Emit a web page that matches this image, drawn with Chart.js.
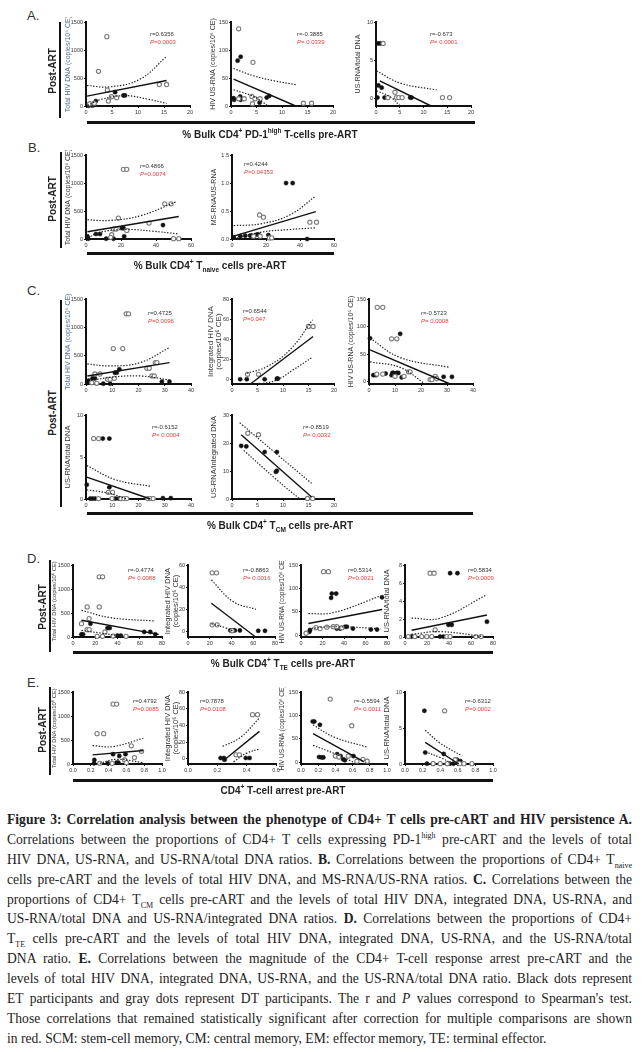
<!DOCTYPE html>
<html>
<head>
<meta charset="utf-8">
<script src="https://cdn.jsdelivr.net/npm/chart.js@4.4.0/dist/chart.umd.min.js"></script>
<style>
body{margin:0;background:#fff;width:642px;height:1052px;position:relative;overflow:hidden;font-family:"Liberation Sans",Arial,sans-serif;color:#222}
canvas{position:absolute}
.let{position:absolute;font-size:13px;line-height:13px;color:#333}
.post{position:absolute;font-weight:bold;font-size:10px;white-space:nowrap;transform:translate(-50%,-50%) rotate(-90deg);color:#222}
.vl{position:absolute;width:2px;background:#111}
.hb{position:absolute;height:3px;background:#111}
.xt{position:absolute;font-weight:bold;font-size:10px;white-space:nowrap;transform:translate(-50%,-50%);color:#222}
.xt sup,.xt sub{font-size:6.5px;line-height:0}
.st{position:absolute;font-size:6px;line-height:8px;white-space:nowrap;color:#333}
.st .p{color:#e8403f}
.cap{position:absolute;left:7px;top:810px;width:625px;font-family:"Liberation Serif","Times New Roman",serif;font-size:13.6px;color:#222}
.cap div{height:19.9px;line-height:19.9px;text-align:justify;text-align-last:justify}
.cap div.last{text-align-last:left}
.cap sup,.cap sub{font-size:8px;line-height:0}
</style>
</head>
<body>
<script>
// ---- A: % bulk CD4+ PD-1high ----
const a1Black = [[0.5,5],[0.8,30],[1.1,12],[1.4,15],[1.9,89],[5.6,248],[7.2,189],[7.5,189]];
const a1Gray = [[4.0,1240],[2.4,620],[4.1,283],[14.1,384],[15.5,384],[4.3,89],[4.9,165],[5.9,148],[0.7,40],[1.6,50]];
const a1Fit = [[0.2,177],[15.5,455]];
const a1Hi = [[0.2,366],[4.6,342],[10.4,480],[15.5,886]];
const a1Lo = [[0.3,10],[3,120],[7.5,185],[12,120],[15.5,47]];

const a2Black = [[1.3,81],[1.9,88],[0.6,11],[0.5,14],[1.8,17],[1.9,11],[7.0,15],[7.5,18],[5.6,6]];
const a2Gray = [[1.5,138],[4.3,78],[14.2,5],[15.8,5],[4.1,17],[4.7,13],[5.7,13],[1.5,13],[2.6,13],[4.2,4]];
const a2Fit = [[0.5,48],[12.7,0]];
const a2Hi = [[0.5,67],[4.4,54],[8.5,45],[12.8,38]];
const a2Lo = [[0.5,29],[4.4,17],[7.3,0]];

const a3Black = [[0.4,7.2],[0.9,7.2],[0.5,1.7],[1.2,1.4],[0.3,0.1],[1.8,0.1],[7.2,0.1],[7.5,0.1]];
const a3Gray = [[1.5,7.2],[2.5,0.1],[4.3,0.1],[4.8,0.1],[4.0,0.8],[5.5,0.1],[14.0,0.1],[15.5,0.1]];
const a3Fit = [[0.8,2.3],[11.6,-1]];
const a3Hi = [[0.1,3.6],[5.1,2.0],[12.8,1.1]];
const a3Lo = [[0.1,1.0],[3,0.2],[5.1,-1]];

// ---- B: % bulk CD4+ Tnaive ----
const b1Black = [[0.8,47],[5.7,89],[8,89],[20.5,196],[21.4,196],[44,249],[11.5,5],[15.7,5],[21.8,47],[1.3,5]];
const b1Gray = [[21.4,1245],[23.3,1245],[45,629],[48.6,629],[18.5,374],[36,285],[15.7,178],[17.2,178],[14.7,77],[23.3,154],[50,6],[53,6],[14.1,30]];
const b1Fit = [[0.8,130],[53,403]];
const b1Hi = [[0.8,344],[13.8,332],[31,415],[52,670]];
const b1Lo = [[1,20],[8,120],[23,170],[38,140],[53,90]];

const b2Black = [[31.8,1.0],[35.7,1.0],[1,0.03],[4.9,0.05],[7.8,0.06],[10.7,0.06],[11.7,0.06],[14.6,0.08],[15.6,0.08],[21.4,0.07],[44.2,0]];
const b2Gray = [[16.2,0.43],[18.5,0.39],[45.8,0.3],[49.7,0.3],[16.6,0.05],[22,0.02],[23.4,0.02],[12.7,0.05]];
const b2Fit = [[1,0.05],[49.3,0.49]];
const b2Hi = [[1,0.24],[16.6,0.27],[34,0.43],[49.3,0.77]];
const b2Lo = [[1,0],[16.6,0.12],[34,0.17],[49.3,0.2]];

// ---- C: % bulk CD4+ TCM ----
const c1Black = [[0.5,20],[1,60],[2.5,100],[3.4,100],[11,200],[11.7,200],[12.7,260],[9.2,5],[6.6,5],[28.9,41],[31.8,41]];
const c1Gray = [[15.3,1240],[16.2,1240],[10.4,626],[14,626],[23.2,278],[24.1,278],[26.4,378],[27,378],[25.1,142],[26,142],[3.4,177],[5.3,177],[8.2,83],[9.2,83],[10.8,100],[2.2,24],[4.1,12]];
const c1Fit = [[0.5,142],[31.8,378]];
const c1Hi = [[0.5,354],[9.2,319],[20.6,378],[31.8,644]];
const c1Lo = [[2,60],[9.2,118],[20.6,142],[31.8,71]];

const c2Black = [[1.6,0.7],[2.9,0.7],[6.4,0.7],[8.8,1.3],[9,1.3]];
const c2Gray = [[15,52.9],[15.9,52.9],[3.05,5.6],[5.2,5.6]];
const c2Fit = [[3.6,-4],[15.9,43]];
const c2Hi = [[2.9,6.6],[6.8,13],[11.4,30],[15.8,59.5]];
const c2Lo = [[5.5,-4],[8.8,0],[12,10],[15.8,22.5]];

const c3Black = [[0.4,79],[12,87],[1.7,12],[2.7,12],[6.4,15],[9,16],[9.4,16],[10.7,16],[11.3,16],[12.6,8],[28.7,9],[31.9,9],[8.7,12]];
const c3Gray = [[3.2,135],[5.3,135],[8.7,78],[10.7,78],[15.2,18],[15.8,18],[3,14],[5.3,14],[10,10],[13.5,10],[23.5,4],[24.2,4],[25.5,10],[26,6]];
const c3Fit = [[0.4,58],[31.2,-4]];
const c3Hi = [[0.4,79],[12,44],[31.2,26]];
const c3Lo = [[0.4,36],[12,26],[21.6,-4]];

const c4Black = [[6.4,7.2],[8.9,7.2],[0.3,1.7],[8.9,1.4],[1.6,0.05],[2.5,0.05],[3.5,0.05],[11.2,0.05],[12.5,0.05],[29.3,0.1],[32.3,0.1]];
const c4Gray = [[2.9,7.2],[4.8,7.2],[8.5,0.8],[10.1,0.8],[4.8,0.05],[9.9,0.05],[13.3,0.05],[14.4,0.05],[15.5,0.05],[23.5,0.05],[24.5,0.05],[25.6,0.05]];
const c4Fit = [[0.3,2.6],[24.5,0]];
const c4Hi = [[0.3,4.0],[11.2,2.3],[25,1.5]];
const c4Lo = [[0.3,1.1],[8.5,0.7],[15.5,0]];

const c5Black = [[1.8,19],[2.8,18.8],[6.4,16.8],[8.8,16.8],[8.8,10.1],[8.6,9.7]];
const c5Gray = [[3.1,23.5],[5.2,23],[14.8,0.2],[15.8,0.2]];
const c5Fit = [[1.8,23],[15.6,0.7]];
const c5Hi = [[1.5,27.3],[8.8,16],[15.6,5.6]];
const c5Lo = [[2.3,17.4],[8.8,6.8],[13.3,0]];

// ---- D: % bulk CD4+ TTE ----
const d1Black = [[7.6,56],[9,56],[15.7,279],[31,188],[33,188],[40,28],[43,28],[64,105],[69.5,105],[74,56]];
const d1Gray = [[23.6,1256],[26.6,1256],[12.7,628],[23.6,628],[14.5,384],[7.6,279],[12.7,153],[14.5,153],[21.7,14],[26.6,14],[28.7,105],[47.7,14],[36,20]];
const d1Fit = [[7.6,349],[77,56]];
const d1Hi = [[7.6,558],[33,405],[72.5,335]];
const d1Lo = [[7.6,140],[24,84],[45,14]];

const d2Black = [[39,0.9],[41.5,0.9],[43,0.9],[47.7,0.9],[64.6,0.6],[70.8,0.6]];
const d2Gray = [[22.2,53],[26.2,53],[22.2,6],[26.8,6],[40.6,0.6]];
const d2Fit = [[21.5,25.5],[61.5,-4.5]];
const d2Hi = [[21.5,46.5],[41.5,27],[62.5,20]];
const d2Lo = [[21.5,7],[35.4,3],[41.5,0]];

const d3Black = [[28.7,89],[32.7,89],[28,80],[75.4,81],[7.8,7],[8.4,11],[33.3,14],[36.4,14],[41,18],[42.7,18],[48.3,14],[65,12],[70.7,12]];
const d3Gray = [[20.9,136],[25.5,136],[14,16],[17.8,14],[30,18],[33.3,18],[4.7,4],[38,16],[24,17]];
const d3Fit = [[6.9,25],[75.4,55]];
const d3Hi = [[6.9,46],[30,48],[74,84]];
const d3Lo = [[6.9,14],[30,18],[74,14]];

const d4Black = [[41,7.1],[47.7,7.1],[39.5,1.35],[42.5,1.35],[74.5,1.7],[6,0.05],[31.9,0.05],[35,0.05]];
const d4Gray = [[22.8,7.1],[26.4,7.1],[27.4,0.8],[3,0.05],[9,0.05],[15.2,0.05],[19.8,0.05],[24.3,0.05],[38,0.05],[41,0.05],[64.4,0.05],[69.3,0.05]];
const d4Fit = [[6,0.75],[74.5,2.45]];
const d4Hi = [[6,2.1],[32,2.1],[74.5,4.7]];
const d4Lo = [[6,0.3],[32,0.6],[74.5,0]];

// ---- E: CD4+ T-cell arrest ----
const e1Black = [[0.24,84],[0.236,14],[0.45,204],[0.52,168],[0.59,204],[0.39,14],[0.49,28],[0.51,28]];
const e1Gray = [[0.45,1250],[0.49,1250],[0.27,633],[0.345,633],[0.655,380],[0.77,265],[0.58,84],[0.69,133],[0.3,14],[0.6,28],[0.44,14]];
const e1Fit = [[0.22,190],[0.79,283]];
const e1Hi = [[0.22,384],[0.45,363],[0.79,537]];
const e1Lo = [[0.3,14],[0.49,98],[0.79,28]];

const e2Black = [[0.222,1.2],[0.245,1.2],[0.394,1.2],[0.42,1.2],[0.25,-0.8]];
const e2Gray = [[0.44,53],[0.474,53],[0.327,5],[0.35,5]];
const e2Fit = [[0.236,-2.7],[0.487,33]];
const e2Hi = [[0.236,15],[0.355,25.5],[0.487,49]];
const e2Lo = [[0.31,-3.5],[0.4,7],[0.487,12]];

const e3Black = [[0.136,87],[0.155,87],[0.22,80],[0.21,11],[0.24,10],[0.26,10],[0.42,17],[0.46,13],[0.49,6],[0.51,4],[0.61,13]];
const e3Gray = [[0.34,135],[0.59,78],[0.4,13],[0.44,11],[0.55,13],[0.65,2],[0.72,6],[0.77,2]];
const e3Fit = [[0.14,61],[0.73,1]];
const e3Hi = [[0.14,80],[0.38,54],[0.77,32]];
const e3Lo = [[0.14,36],[0.38,19],[0.61,0]];

const e4Black = [[0.22,7.4],[0.23,1.6],[0.44,1.4],[0.25,0.05],[0.32,0.05],[0.48,0.05],[0.51,0.05],[0.55,0.05],[0.59,0.6],[0.63,0.4]];
const e4Gray = [[0.45,7.4],[0.57,0.6],[0.32,0.05],[0.4,0.05],[0.48,0.05],[0.62,0.05],[0.67,0.05],[0.76,0.05]];
const e4Fit = [[0.23,3.0],[0.61,0]];
const e4Hi = [[0.23,4.7],[0.4,2.9],[0.65,1.1]];
const e4Lo = [[0.23,1.7],[0.4,0.9],[0.55,0]];

// tick labels
const pctTicks20 = ['0','5','10','15','20'];
const pctTicks40 = ['0','10','20','30','40'];
const pctTicks60 = ['0','20','40','60'];
const pctTicks80 = ['0','20','40','60','80'];
const arrestTicks = ['0.0','0.2','0.4','0.6','0.8','1.0'];
const arrestTicks06 = ['0.0','0.2','0.4','0.6'];
const dnaTicks = ['0','500','1000','1500'];
const rnaTicks = ['0','50','100','150'];
const ratioTicks10 = ['0','5','10'];
const ratioTicks8 = ['0','2','4','6','8'];
const msTicks = ['0.0','0.5','1.0','1.5'];
const intTicks80 = ['0','20','40','60','80'];
const intTicks60 = ['0','20','40','60'];
const intRatioTicks = ['0','10','20','30'];

const TOTAL = 'Total HIV DNA (copies/10\u2076 CE)';
const USRNA = 'HIV US-RNA (copies/10\u2076 CE)';
const INTEG = ['Integrated HIV DNA', '(copies/10\u2076 CE)'];

const charts = [
  {plot:[86,22,190,106], xt:pctTicks20, xr:[0,20], yt:dnaTicks, yr:[0,1500], black:a1Black, gray:a1Gray, fit:a1Fit, hi:a1Hi, lo:a1Lo, title:TOTAL, tc:'#4b6f96', ts:7, r:'r=0.6356', p:'0.0003', sp:'', rx:150, ry:30},
  {plot:[231,22,333,106], xt:pctTicks20, xr:[0,20], yt:rnaTicks, yr:[0,150], black:a2Black, gray:a2Gray, fit:a2Fit, hi:a2Hi, lo:a2Lo, title:USRNA, ts:7, r:'r=-0.3885', p:'0.0339', sp:' ', rx:297, ry:30},
  {plot:[376,22,471,106], xt:pctTicks20, xr:[0,20], yt:ratioTicks10, yr:[-1,10], black:a3Black, gray:a3Gray, fit:a3Fit, hi:a3Hi, lo:a3Lo, title:'US-RNA/total DNA', ts:7, r:'r=-0.673', p:'0.0001', sp:' ', rx:430, ry:30},
  {plot:[86,155,191,239], xt:pctTicks60, xr:[0,60], yt:dnaTicks, yr:[0,1500], black:b1Black, gray:b1Gray, fit:b1Fit, hi:b1Hi, lo:b1Lo, title:TOTAL, ts:7, r:'r=0.4866', p:'0.0074', sp:'', rx:140, ry:162},
  {plot:[232,155,334,239], xt:pctTicks60, xr:[0,60], yt:msTicks, yr:[0,1.5], black:b2Black, gray:b2Gray, fit:b2Fit, hi:b2Hi, lo:b2Lo, title:'MS-RNA/US-RNA', ts:7, r:'r=0.4244', p:'0.04353', sp:'', rx:244, ry:160},
  {plot:[86,299,191,384], xt:pctTicks40, xr:[0,40], yt:dnaTicks, yr:[0,1500], black:c1Black, gray:c1Gray, fit:c1Fit, hi:c1Hi, lo:c1Lo, title:TOTAL, tc:'#4b6f96', ts:7, r:'r=0.4725', p:'0.0096', sp:'', rx:148, ry:309},
  {plot:[232,299,334,384], xt:pctTicks20, xr:[0,20], yt:intTicks80, yr:[-4,80], black:c2Black, gray:c2Gray, fit:c2Fit, hi:c2Hi, lo:c2Lo, title:INTEG, ts:8, yw:28, r:'r=0.6544', p:'0.047', sp:'', rx:243, ry:307},
  {plot:[369,299,473,384], xt:pctTicks40, xr:[0,40], yt:rnaTicks, yr:[-4,150], black:c3Black, gray:c3Gray, fit:c3Fit, hi:c3Hi, lo:c3Lo, title:USRNA, ts:7, r:'r=-0.5723', p:'0.0008', sp:' ', rx:421, ry:309},
  {plot:[86,415,191,499], xt:pctTicks40, xr:[0,40], yt:ratioTicks10, yr:[0,10], black:c4Black, gray:c4Gray, fit:c4Fit, hi:c4Hi, lo:c4Lo, title:'US-RNA/total DNA', ts:7.5, r:'r=-0.6152', p:'0.0004', sp:' ', rx:152, ry:423},
  {plot:[232,415,334,499], xt:pctTicks20, xr:[0,20], yt:intRatioTicks, yr:[0,30], black:c5Black, gray:c5Gray, fit:c5Fit, hi:c5Hi, lo:c5Lo, title:'US-RNA/integrated DNA', ts:7.5, r:'r=-0.8519', p:'0.0032', sp:' ', rx:303, ry:423},
  {plot:[73,565,162,637], xt:pctTicks80, xr:[0,80], yt:dnaTicks, yr:[0,1500], black:d1Black, gray:d1Gray, fit:d1Fit, hi:d1Hi, lo:d1Lo, title:TOTAL, ts:5.8, r:'r=-0.4774', p:'0.0088', sp:' ', rx:128, ry:566},
  {plot:[188,565,275,637], xt:pctTicks80, xr:[0,80], yt:intTicks60, yr:[-5,60], black:d2Black, gray:d2Gray, fit:d2Fit, hi:d2Hi, lo:d2Lo, title:INTEG, ts:7.5, yw:26, r:'r=-0.8863', p:'0.0016', sp:' ', rx:243, ry:566},
  {plot:[301,565,387,637], xt:pctTicks80, xr:[0,80], yt:rnaTicks, yr:[-4,150], black:d3Black, gray:d3Gray, fit:d3Fit, hi:d3Hi, lo:d3Lo, title:USRNA, ts:6.5, r:'r=0.5314', p:'0.0021', sp:'', rx:348, ry:566},
  {plot:[405,565,493,637], xt:pctTicks80, xr:[0,80], yt:ratioTicks8, yr:[0,8], black:d4Black, gray:d4Gray, fit:d4Fit, hi:d4Hi, lo:d4Lo, title:'US-RNA/total DNA', ts:7.5, r:'r=0.5834', p:'0.0009', sp:'', rx:468, ry:566},
  {plot:[73,692,162,764], xt:arrestTicks, xr:[0,1], yt:dnaTicks, yr:[0,1500], black:e1Black, gray:e1Gray, fit:e1Fit, hi:e1Hi, lo:e1Lo, title:TOTAL, ts:5.8, r:'r=0.4792', p:'0.0085', sp:'', rx:133, ry:697},
  {plot:[188,692,276,764], xt:arrestTicks06, xr:[0,0.6], yt:intTicks80, yr:[-6,80], black:e2Black, gray:e2Gray, fit:e2Fit, hi:e2Hi, lo:e2Lo, title:INTEG, ts:7.5, yw:26, r:'r=0.7878', p:'0.0108', sp:'', rx:200, ry:697},
  {plot:[301,692,387,764], xt:arrestTicks, xr:[0,1], yt:rnaTicks, yr:[-4,150], black:e3Black, gray:e3Gray, fit:e3Fit, hi:e3Hi, lo:e3Lo, title:USRNA, ts:6.5, r:'r=-0.5594', p:'0.0011', sp:' ', rx:354, ry:697},
  {plot:[405,692,493,764], xt:arrestTicks, xr:[0,1], yt:ratioTicks10, yr:[0,10], black:e4Black, gray:e4Gray, fit:e4Fit, hi:e4Hi, lo:e4Lo, title:'US-RNA/total DNA', ts:7.5, r:'r=-0.6312', p:'0.0002', sp:'', rx:465, ry:697}
];

function pts(a) { return a.map(p => ({x: p[0], y: p[1]})); }

function axis(ticks, range, size, isX) {
  return {
    type: 'linear', min: range[0], max: range[1],
    afterBuildTicks: s => { s.ticks = ticks.map(t => ({value: parseFloat(t)})); },
    ticks: {callback: (v, i) => ticks[i], font: {size: 5.5, family: 'Liberation Sans'}, color: '#333', padding: 1, maxRotation: 0, autoSkip: false},
    grid: {drawOnChartArea: false, tickLength: 2, color: '#111', lineWidth: 1},
    border: {color: '#111', width: 2},
    afterFit: s => { if (isX) s.height = size; else s.width = size; }
  };
}

function makeChart(c) {
  const yw = c.yw || 24, xh = 11, pt = 5, pr = 9;
  const W = c.plot[2] - c.plot[0], H = c.plot[3] - c.plot[1];
  const cv = document.createElement('canvas');
  cv.width = W + yw + pr;
  cv.height = H + pt + xh;
  cv.style.left = (c.plot[0] - yw) + 'px';
  cv.style.top = (c.plot[1] - pt) + 'px';
  document.body.appendChild(cv);

  const band = d => ({data: pts(d), showLine: true, borderColor: '#222', borderWidth: 1.2, borderDash: [1.4, 1.6], pointRadius: 0, tension: 0.4, clip: false});
  const yAx = axis(c.yt, c.yr, yw, false);
  yAx.title = {display: true, text: c.title, color: c.tc || '#333', font: {size: c.ts || 6, family: 'Liberation Sans', lineHeight: 1.1}, padding: {top: 2, bottom: 0}};

  new Chart(cv, {
    type: 'scatter',
    data: {datasets: [
      band(c.hi),
      band(c.lo),
      {data: pts(c.fit), showLine: true, borderColor: '#111', borderWidth: 1.4, pointRadius: 0, clip: false},
      {data: pts(c.gray), pointRadius: 2.1, pointBackgroundColor: '#fff', pointBorderColor: '#7a7a7a', pointBorderWidth: 1.1, clip: false},
      {data: pts(c.black), pointRadius: 2.1, pointBackgroundColor: '#111', pointBorderColor: '#111', pointBorderWidth: 0.5, clip: false}
    ]},
    options: {
      responsive: false, animation: false, devicePixelRatio: 1,
      layout: {padding: {top: pt, right: pr, left: 0, bottom: 0}},
      plugins: {legend: {display: false}, tooltip: {enabled: false}},
      scales: {x: axis(c.xt, c.xr, xh, true), y: yAx}
    }
  });

  const s = document.createElement('div');
  s.className = 'st';
  s.style.left = c.rx + 'px';
  s.style.top = c.ry + 'px';
  s.innerHTML = c.r + '<br><span class="p"><i>P</i>=' + c.sp + c.p + '</span>';
  document.body.appendChild(s);
}

charts.forEach(makeChart);
</script>

<div class="let" style="left:27px;top:9px">A.</div>
<div class="let" style="left:28px;top:141px">B.</div>
<div class="let" style="left:27px;top:284px">C.</div>
<div class="let" style="left:27px;top:552px">D.</div>
<div class="let" style="left:27px;top:676px">E.</div>

<div class="post" style="left:52px;top:71px">Post-ART</div>
<div class="post" style="left:52px;top:199px">Post-ART</div>
<div class="post" style="left:52px;top:413px">Post-ART</div>
<div class="post" style="left:42px;top:607px">Post-ART</div>
<div class="post" style="left:42px;top:730px">Post-ART</div>

<div class="vl" style="left:59px;top:22px;height:96px"></div>
<div class="vl" style="left:60px;top:152px;height:96px"></div>
<div class="vl" style="left:60px;top:300px;height:207px"></div>
<div class="vl" style="left:49px;top:560px;height:92px"></div>
<div class="vl" style="left:49px;top:687px;height:88px"></div>

<div class="hb" style="left:87px;top:121px;width:388px"></div>
<div class="hb" style="left:87px;top:252px;width:247px"></div>
<div class="hb" style="left:87px;top:512px;width:386px"></div>
<div class="hb" style="left:73px;top:651px;width:420px"></div>
<div class="hb" style="left:73px;top:779px;width:420px"></div>

<div class="xt" style="left:270px;top:134px">% Bulk CD4<sup>+</sup> PD-1<sup>high</sup> T-cells pre-ART</div>
<div class="xt" style="left:210px;top:265px">% Bulk CD4<sup>+</sup> T<sub>naive</sub> cells pre-ART</div>
<div class="xt" style="left:280px;top:525px">% Bulk CD4<sup>+</sup> T<sub>CM</sub> cells pre-ART</div>
<div class="xt" style="left:283px;top:663px">% Bulk CD4<sup>+</sup> T<sub>TE</sub> cells pre-ART</div>
<div class="xt" style="left:283px;top:790px">CD4<sup>+</sup> T-cell arrest pre-ART</div>

<div class="cap">
<div><b>Figure 3: Correlation analysis between the phenotype of CD4+ T cells pre-cART and HIV persistence A.</b></div>
<div>Correlations between the proportions of CD4+ T cells expressing PD-1<sup>high</sup> pre-cART and the levels of total</div>
<div>HIV DNA, US-RNA, and US-RNA/total DNA ratios. <b>B.</b> Correlations between the proportions of CD4+ T<sub>naive</sub></div>
<div>cells pre-cART and the levels of total HIV DNA, and MS-RNA/US-RNA ratios. <b>C.</b> Correlations between the</div>
<div>proportions of CD4+ T<sub>CM</sub> cells pre-cART and the levels of total HIV DNA, integrated DNA, US-RNA, and</div>
<div>US-RNA/total DNA and US-RNA/integrated DNA ratios. <b>D.</b> Correlations between the proportions of CD4+</div>
<div>T<sub>TE</sub> cells pre-cART and the levels of total HIV DNA, integrated DNA, US-RNA, and the US-RNA/total</div>
<div>DNA ratio. <b>E.</b> Correlations between the magnitude of the CD4+ T-cell response arrest pre-cART and the</div>
<div>levels of total HIV DNA, integrated DNA, US-RNA, and the US-RNA/total DNA ratio. Black dots represent</div>
<div>ET participants and gray dots represent DT participants. The r and <i>P</i> values correspond to Spearman's test.</div>
<div>Those correlations that remained statistically significant after correction for multiple comparisons are shown</div>
<div class="last">in red. SCM: stem-cell memory, CM: central memory, EM: effector memory, TE: terminal effector.</div>
</div>
</body>
</html>
